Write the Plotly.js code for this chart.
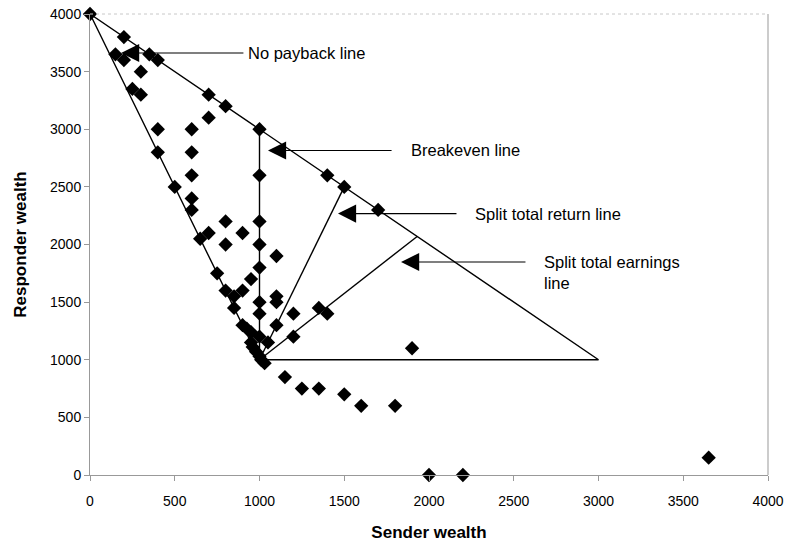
<!DOCTYPE html>
<html>
<head>
<meta charset="utf-8">
<script src="https://cdn.plot.ly/plotly-3.0.1.min.js"></script>
<style>html,body{margin:0;padding:0;background:#fff;}#chart{width:788px;height:546px;}</style>
</head>
<body>
<div id="chart"></div>
<script>
// Observed (sender wealth, responder wealth) pairs
var senderWealth = [
  0, 200, 350, 400, 700, 800, 1000, 1400, 1500, 1700,
  150, 200, 300, 250, 300, 700, 400, 600,
  400, 600, 600, 1000, 500, 600, 600,
  800, 1000, 700, 900, 650, 800, 1000, 1100,
  1000, 950, 750, 800, 900, 850, 1100, 1100, 1000,
  850, 1000, 1200, 1350, 1400, 900, 1100,
  925, 950, 1000, 1200, 950, 1050,
  960, 980, 1000, 1010, 1030,
  1900, 1150, 1250, 1350, 1500, 1600, 1800,
  2000, 2200, 3650
];
var responderWealth = [
  4000, 3800, 3650, 3600, 3300, 3200, 3000, 2600, 2500, 2300,
  3650, 3600, 3500, 3350, 3300, 3100, 3000, 3000,
  2800, 2800, 2600, 2600, 2500, 2400, 2300,
  2200, 2200, 2100, 2100, 2050, 2000, 2000, 1900,
  1800, 1700, 1750, 1600, 1600, 1550, 1550, 1500, 1500,
  1450, 1400, 1400, 1450, 1400, 1300, 1300,
  1270, 1240, 1200, 1200, 1150, 1150,
  1110, 1070, 1030, 1000, 970,
  1100, 850, 750, 750, 700, 600, 600,
  0, 0, 150
];

// Reference lines
var triangleX = [0, 3000, 1000, 0];
var triangleY = [4000, 1000, 1000, 4000];
var breakevenX = [1000, 1000];
var breakevenY = [1000, 3000];
var splitReturnX = [1000, 1500];
var splitReturnY = [1000, 2500];
var splitEarningsX = [1000, 1930];
var splitEarningsY = [1000, 2070];

var tickVals = [0, 500, 1000, 1500, 2000, 2500, 3000, 3500, 4000];

// Line labels with arrows
var labelTexts = ['No payback line', 'Breakeven line', 'Split total return line', 'Split total earnings<br>line'];
var labelHeadX = [183, 1050, 1463, 1835];
var labelHeadY = [3662, 2816, 2268, 1848];
var labelTailX = [914, 1788, 2171, 2578];
var labelTextX = [920, 1882, 2260, 2667];
var labelTextY = [3662, 2816, 2268, 1761];

var lineStyle = {color: '#000', width: 1.4};
var traces = [
  {x: triangleX, y: triangleY, mode: 'lines', line: lineStyle, hoverinfo: 'skip'},
  {x: breakevenX, y: breakevenY, mode: 'lines', line: lineStyle, hoverinfo: 'skip'},
  {x: splitReturnX, y: splitReturnY, mode: 'lines', line: lineStyle, hoverinfo: 'skip'},
  {x: splitEarningsX, y: splitEarningsY, mode: 'lines', line: lineStyle, hoverinfo: 'skip'},
  {x: senderWealth, y: responderWealth, mode: 'markers', cliponaxis: false,
   marker: {symbol: 'diamond', size: 11, color: '#000'}}
];

var annotations = [];
for (var i = 0; i < labelTexts.length; i++) {
  annotations.push({
    x: labelHeadX[i], y: labelHeadY[i], xref: 'x', yref: 'y',
    ax: labelTailX[i], ay: labelHeadY[i], axref: 'x', ayref: 'y',
    text: '', showarrow: true, arrowhead: 2, arrowsize: 3.3, arrowwidth: 1.1,
    arrowcolor: '#000'
  });
  annotations.push({
    x: labelTextX[i], y: labelTextY[i], xref: 'x', yref: 'y',
    text: labelTexts[i], showarrow: false, xanchor: 'left', yanchor: 'middle',
    align: 'left', font: {family: 'Liberation Sans, Arial, sans-serif', size: 16.5, color: '#000'}
  });
}

var layout = {
  width: 788, height: 546,
  margin: {l: 90, r: 20, t: 14, b: 71},
  paper_bgcolor: '#fff', plot_bgcolor: '#fff',
  showlegend: false,
  font: {family: 'Liberation Sans, Arial, sans-serif', size: 14, color: '#000'},
  xaxis: {
    range: [0, 4000], tickvals: tickVals, showgrid: false, zeroline: false,
    showline: true, linecolor: '#999', linewidth: 1,
    ticks: 'outside', ticklen: 5, tickcolor: '#999', ticklabelstandoff: 8,
    tickfont: {size: 14},
    title: {text: 'Sender wealth', font: {size: 17, weight: 'bold'}, standoff: 18}
  },
  yaxis: {
    range: [0, 4000], tickvals: tickVals, showgrid: false, zeroline: false,
    showline: true, linecolor: '#999', linewidth: 1,
    ticks: 'outside', ticklen: 5, tickcolor: '#999',
    tickfont: {size: 14},
    title: {text: 'Responder wealth', font: {size: 17, weight: 'bold'}, standoff: 19}
  },
  shapes: [
    {type: 'line', xref: 'paper', yref: 'paper', x0: 0, x1: 1, y0: 1, y1: 1,
     line: {color: '#c8c8c8', width: 1, dash: 'dot'}},
    {type: 'line', xref: 'paper', yref: 'paper', x0: 1, x1: 1, y0: 0, y1: 1,
     line: {color: '#999', width: 1}}
  ],
  annotations: annotations
};

Plotly.newPlot('chart', traces, layout, {displayModeBar: false, staticPlot: true});
</script>
</body>
</html>
